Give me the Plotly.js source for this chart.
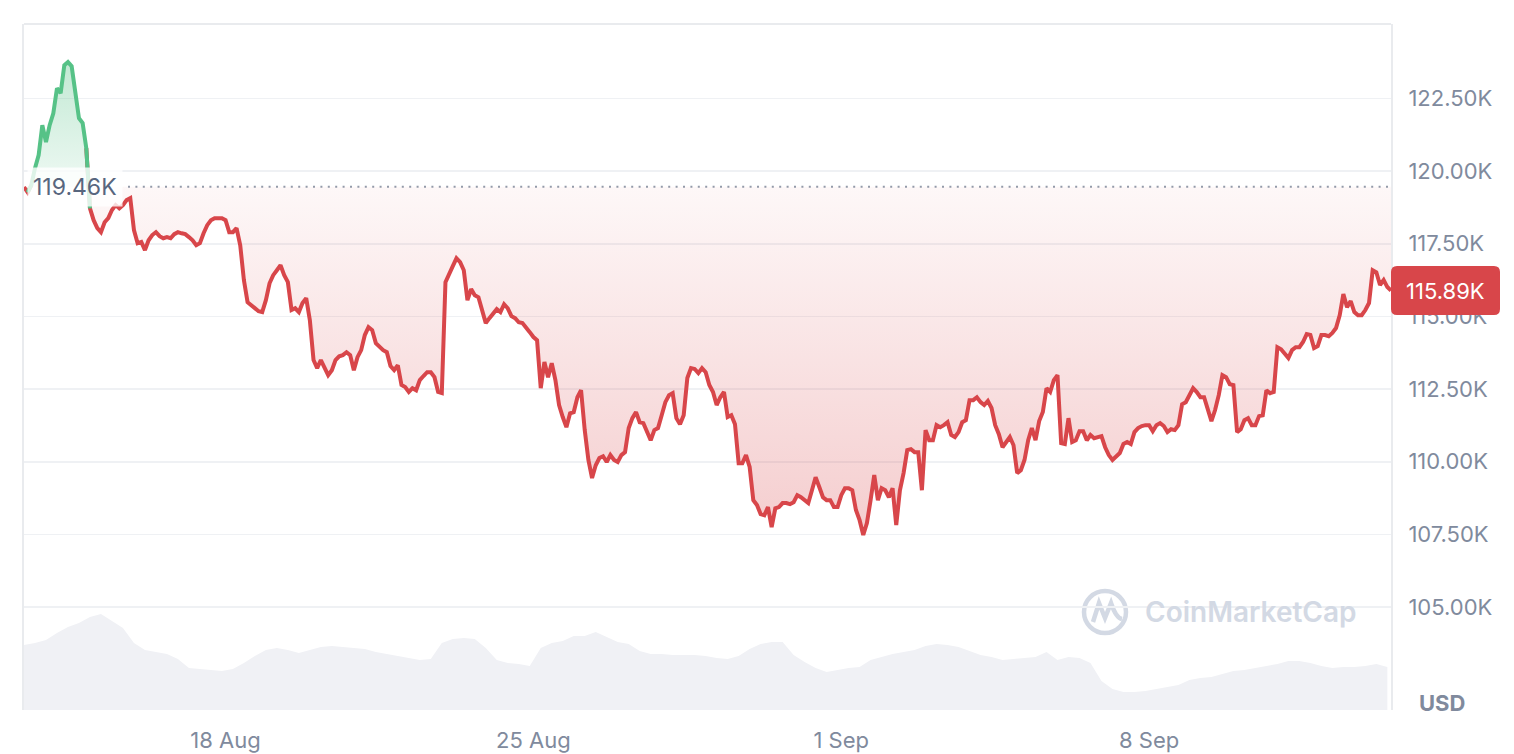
<!DOCTYPE html>
<html>
<head>
<meta charset="utf-8">
<script src="https://cdn.plot.ly/plotly-3.0.1.min.js"></script>
<style>
  html, body { margin: 0; padding: 0; background: #ffffff; }
  #chart { width: 1514px; height: 754px; }
</style>
</head>
<body>
<div id="chart"></div>
<script>
// ---------------- DATA ----------------
// Price series (thousands of USD), sampled every 2 hours from 13 Aug 2025 10:00
const PRICE_START = '2025-08-13T10:00:00Z';
const PRICE_STEP_HOURS = 2;
const priceK = [
  119.45,119.27,119.52,120.10,120.55,121.58,121.00,121.58,121.99,122.85,122.68,123.64,
  123.75,123.61,122.78,121.82,121.65,120.79,118.72,118.31,118.04,117.90,118.24,118.38,
  118.66,118.83,118.72,118.83,119.00,119.07,117.97,117.52,117.56,117.28,117.62,117.80,
  117.90,117.76,117.69,117.73,117.69,117.83,117.90,117.86,117.83,117.73,117.62,117.45,
  117.52,117.86,118.14,118.31,118.38,118.38,118.38,118.31,117.90,117.90,118.04,117.45,
  116.25,115.49,115.39,115.28,115.18,115.15,115.56,116.14,116.42,116.59,116.76,116.42,
  116.18,115.22,115.28,115.15,115.46,115.63,114.87,113.50,113.22,113.50,113.22,112.98,
  113.15,113.50,113.63,113.67,113.77,113.67,113.15,113.60,113.84,114.36,114.63,114.53,
  114.08,113.94,113.84,113.77,113.29,113.15,113.32,112.64,112.57,112.40,112.53,112.46,
  112.81,112.95,113.08,113.08,112.91,112.40,112.36,116.18,116.42,116.73,117.00,116.87,
  116.59,115.56,115.94,115.73,115.66,115.15,114.77,114.94,115.08,115.25,115.15,115.42,
  115.28,115.01,114.94,114.80,114.77,114.63,114.46,114.29,114.18,112.53,113.43,112.91,
  113.39,112.81,111.95,111.54,111.19,111.67,111.71,112.22,112.46,111.09,110.06,109.44,
  109.88,110.13,110.19,109.99,110.23,110.06,109.99,110.23,110.33,111.16,111.50,111.71,
  111.36,111.33,111.02,110.74,111.09,111.16,111.60,112.05,112.29,112.36,111.50,111.29,
  111.60,112.88,113.22,113.19,113.05,113.22,113.08,112.64,112.40,111.95,112.22,112.40,
  111.54,111.60,111.29,109.95,109.95,110.23,109.82,108.68,108.51,108.20,108.16,108.44,
  107.75,108.40,108.44,108.58,108.58,108.54,108.61,108.85,108.78,108.68,108.58,109.02,
  109.47,109.13,108.78,108.68,108.68,108.44,108.44,108.85,109.09,109.09,109.02,108.34,
  107.99,107.48,107.89,108.68,109.54,108.68,109.09,109.02,108.78,109.09,107.82,109.02,
  109.61,110.40,110.43,110.33,110.33,109.02,111.09,110.74,110.74,111.26,111.19,111.26,
  111.36,110.92,110.85,111.02,111.36,111.43,112.12,112.12,112.22,112.05,111.95,112.09,
  111.85,111.26,110.95,110.50,110.68,110.85,110.57,109.61,109.71,110.06,110.74,111.16,
  110.74,111.40,111.71,112.53,112.40,112.81,112.98,110.64,110.61,111.50,110.68,110.74,
  111.05,111.05,110.74,110.92,110.81,110.85,110.88,110.50,110.23,110.06,110.16,110.30,
  110.61,110.68,110.61,111.02,111.16,111.23,111.26,111.26,111.05,111.26,111.33,111.23,
  111.02,111.12,111.09,111.26,111.98,112.05,112.29,112.53,112.40,112.22,112.22,111.78,
  111.40,111.78,112.29,112.98,112.91,112.67,112.64,111.02,111.12,111.43,111.50,111.26,
  111.26,111.57,111.60,112.46,112.36,112.40,113.94,113.87,113.70,113.57,113.84,113.94,
  113.94,114.12,114.39,114.36,113.91,113.98,114.36,114.36,114.32,114.43,114.60,115.04,
  115.77,115.32,115.53,115.15,115.04,115.04,115.22,115.46,116.59,116.52,116.08,116.25,
  116.01,115.89
];

// Reference (opening) price, thousands of USD
const baselineK = 119.46;

// Volume series (billions of USD), sampled every 6 hours from the same start
const VOLUME_STEP_HOURS = 6;
const volumeB = [
  32.5,33.5,35.0,38.5,41.5,43.5,46.5,48.0,44.5,41.0,33.5,30.0,
  29.0,28.0,25.5,21.0,20.5,20.0,19.5,20.5,23.5,27.0,30.0,31.0,
  30.0,28.5,30.0,31.5,32.0,31.5,31.0,30.5,29.0,28.0,27.0,26.0,
  25.0,25.5,33.5,35.5,36.0,35.5,31.0,25.0,23.5,23.0,22.0,31.0,
  33.5,34.5,37.0,37.0,39.0,36.5,34.0,33.0,29.5,28.0,28.0,27.5,
  27.5,27.5,27.0,26.0,25.5,27.0,30.5,33.0,34.0,34.0,27.5,24.0,
  21.0,19.0,20.0,21.0,21.5,25.0,26.5,28.0,29.0,30.0,32.0,33.0,
  32.5,31.5,29.5,27.5,26.5,25.0,25.5,26.0,26.5,29.0,25.0,26.5,
  26.0,23.5,14.5,10.5,9.0,9.0,9.5,10.5,11.5,12.5,15.0,16.0,
  16.5,18.0,19.5,20.0,21.0,22.0,23.0,24.5,24.5,23.5,22.0,21.0,
  21.5,21.5,22.0,23.0,21.5
];

// Axis ticks
const yTickValsK = [105, 107.5, 110, 112.5, 115, 117.5, 120, 122.5];
const xTick0 = '2025-08-18';
const currencyLabel = 'USD';
const watermarkText = 'CoinMarketCap';

// ---------------- BUILD ----------------
const startMs = Date.parse(PRICE_START);
function makeTimes(n, stepH) {
  const out = [];
  for (let i = 0; i < n; i++) {
    out.push(new Date(startMs + i * stepH * 3600000).toISOString().slice(0, 19).replace('T', ' '));
  }
  return out;
}
const priceTimes = makeTimes(priceK.length, PRICE_STEP_HOURS);
const volumeTimes = makeTimes(volumeB.length, VOLUME_STEP_HOURS);

const n = priceK.length;
const baseArr = priceK.map(() => baselineK);
const upperFill = priceK.map(v => Math.max(v, baselineK));
const lowerFill = priceK.map(v => Math.min(v, baselineK));
const greenLine = priceK.map((v, i) => {
  const a = v >= baselineK, p = i > 0 && priceK[i - 1] >= baselineK, q = i < n - 1 && priceK[i + 1] >= baselineK;
  return (a || p || q) ? v : null;
});
const redLine = priceK.map((v, i) => {
  const a = v < baselineK, p = i > 0 && priceK[i - 1] < baselineK, q = i < n - 1 && priceK[i + 1] < baselineK;
  return (a || p || q) ? v : null;
});
const lastK = priceK[n - 1];
const maxK = Math.max(...priceK);
const minK = Math.min(...priceK);
const yTickText = yTickValsK.map(v => v.toFixed(2) + 'K');

const RED = '#d8464a';
const GREEN = '#56c287';
const GRAY = '#808a9d';
const FONT = 'Inter, "Noto Sans", sans-serif';

const traces = [
  { x: volumeTimes, y: volumeB, yaxis: 'y2', type: 'scatter', mode: 'lines',
    line: { width: 0, color: '#f0f1f5' }, fill: 'tozeroy', fillcolor: '#f0f1f5', hoverinfo: 'skip' },
  { x: priceTimes, y: baseArr, type: 'scatter', mode: 'lines', line: { width: 0 }, hoverinfo: 'skip' },
  { x: priceTimes, y: upperFill, type: 'scatter', mode: 'lines', line: { width: 0 }, fill: 'tonexty',
    fillcolor: 'rgba(86,194,135,0.2)',
    fillgradient: { type: 'vertical', start: baselineK, stop: maxK,
      colorscale: [[0, 'rgba(86,194,135,0.10)'], [1, 'rgba(86,194,135,0.36)']] },
    hoverinfo: 'skip' },
  { x: priceTimes, y: baseArr, type: 'scatter', mode: 'lines', line: { width: 0 }, hoverinfo: 'skip' },
  { x: priceTimes, y: lowerFill, type: 'scatter', mode: 'lines', line: { width: 0 }, fill: 'tonexty',
    fillcolor: 'rgba(216,70,74,0.12)',
    fillgradient: { type: 'vertical', start: baselineK, stop: minK,
      colorscale: [[0, 'rgba(216,70,74,0.04)'], [1, 'rgba(216,70,74,0.27)']] },
    hoverinfo: 'skip' },
  { x: priceTimes, y: redLine, type: 'scatter', mode: 'lines', connectgaps: false,
    line: { color: RED, width: 4 }, hoverinfo: 'skip' },
  { x: priceTimes, y: greenLine, type: 'scatter', mode: 'lines', connectgaps: false,
    line: { color: GREEN, width: 4 }, hoverinfo: 'skip' }
];

// pixel helpers for decorations (plot area spans 24..1391 x, 24..710 y)
const PL = 24, PR = 1391, PT = 24, PB = 710;
const px = x => (x - PL) / (PR - PL);
const py = y => (PB - y) / (PB - PT);
const kPerPx = (125.06 - 101.46) / (PB - PT);

// last price rounded box (x in paper, y in data)
const bx0 = px(1391), bx1 = px(1500);
const hh = 24.5 * kPerPx, ry = 6 * kPerPx, rx = 6 / (PR - PL);
const yt = lastK + hh, yb = lastK - hh;
const boxPath = `M ${bx0 + rx},${yt} L ${bx1 - rx},${yt} Q ${bx1},${yt} ${bx1},${yt - ry} L ${bx1},${yb + ry} Q ${bx1},${yb} ${bx1 - rx},${yb} L ${bx0 + rx},${yb} Q ${bx0},${yb} ${bx0},${yb + ry} L ${bx0},${yt - ry} Q ${bx0},${yt} ${bx0 + rx},${yt} Z`;

// watermark logo path
const logoPath = `M ${px(1093)},${py(622)} L ${px(1099)},${py(603)} L ${px(1105)},${py(618)} L ${px(1111)},${py(603)} Q ${px(1116)},${py(618)} ${px(1122)},${py(619)}`;

const layout = {
  width: 1514, height: 754,
  margin: { l: PL, r: 1514 - PR, t: PT, b: 754 - PB, pad: 0 },
  paper_bgcolor: '#ffffff', plot_bgcolor: '#ffffff',
  showlegend: false,
  hovermode: false,
  font: { family: FONT, color: GRAY, size: 22 },
  xaxis: {
    type: 'date',
    range: [priceTimes[0], priceTimes[n - 1]],
    tick0: xTick0, dtick: 7 * 86400000,
    tickformat: '%-d %b',
    showgrid: false, zeroline: false, showline: false, ticks: '',
    ticklabelstandoff: 15,
    tickfont: { family: FONT, size: 22, color: GRAY },
    fixedrange: true
  },
  yaxis: {
    side: 'right',
    range: [101.46, 125.06],
    tickmode: 'array',
    tickvals: yTickValsK,
    ticktext: yTickText,
    showgrid: true, gridcolor: '#eff1f4', gridwidth: 1.5,
    showline: true, mirror: true, linecolor: '#e9ebee', linewidth: 2,
    zeroline: false, ticks: '',
    ticklabelstandoff: 11,
    tickfont: { family: FONT, size: 22, color: GRAY },
    fixedrange: true
  },
  yaxis2: { overlaying: 'y', range: [0, 343], visible: false, fixedrange: true },
  shapes: [
    { type: 'line', xref: 'paper', yref: 'paper', x0: 0, x1: 1, y0: 1, y1: 1,
      line: { color: '#e9ebee', width: 2 } },
    { type: 'line', xref: 'paper', yref: 'y', x0: px(128), x1: 1, y0: baselineK, y1: baselineK,
      line: { color: '#939aa9', width: 2, dash: '2px,5.4px' } },
    { type: 'path', xref: 'paper', yref: 'y', path: boxPath, fillcolor: RED,
      line: { width: 0 }, layer: 'above' },
    { type: 'circle', xref: 'paper', yref: 'paper', x0: px(1084), x1: px(1126), y0: py(633), y1: py(591),
      line: { color: '#d3d9e4', width: 4.5 }, layer: 'below' },
    { type: 'path', xref: 'paper', yref: 'paper', path: logoPath,
      line: { color: '#d3d9e4', width: 4.5 }, layer: 'below' }
  ],
  annotations: [
    { xref: 'paper', yref: 'y', x: 0, y: baselineK, xanchor: 'left', yanchor: 'middle',
      xshift: 3, text: baselineK.toFixed(2) + 'K', showarrow: false,
      font: { family: FONT, size: 23, color: '#58667e' },
      bgcolor: 'rgba(255,255,255,0.8)', borderpad: 5 },
    { xref: 'paper', yref: 'y', x: (bx0 + bx1) / 2, y: lastK, xanchor: 'center', yanchor: 'middle',
      text: lastK.toFixed(2) + 'K', showarrow: false,
      font: { family: FONT, size: 22, color: '#ffffff' } },
    { xref: 'paper', yref: 'paper', x: px(1442), y: py(703), xanchor: 'center', yanchor: 'middle',
      text: '<b>' + currencyLabel + '</b>', showarrow: false,
      font: { family: FONT, size: 22, color: GRAY } },
    { xref: 'paper', yref: 'paper', x: px(1251), y: py(612), xanchor: 'center', yanchor: 'middle',
      text: watermarkText, showarrow: false,
      font: { family: FONT, size: 28, color: '#d3d9e4', weight: 600 } }
  ]
};

Plotly.newPlot('chart', traces, layout, { displayModeBar: false, staticPlot: true });
</script>
</body>
</html>
